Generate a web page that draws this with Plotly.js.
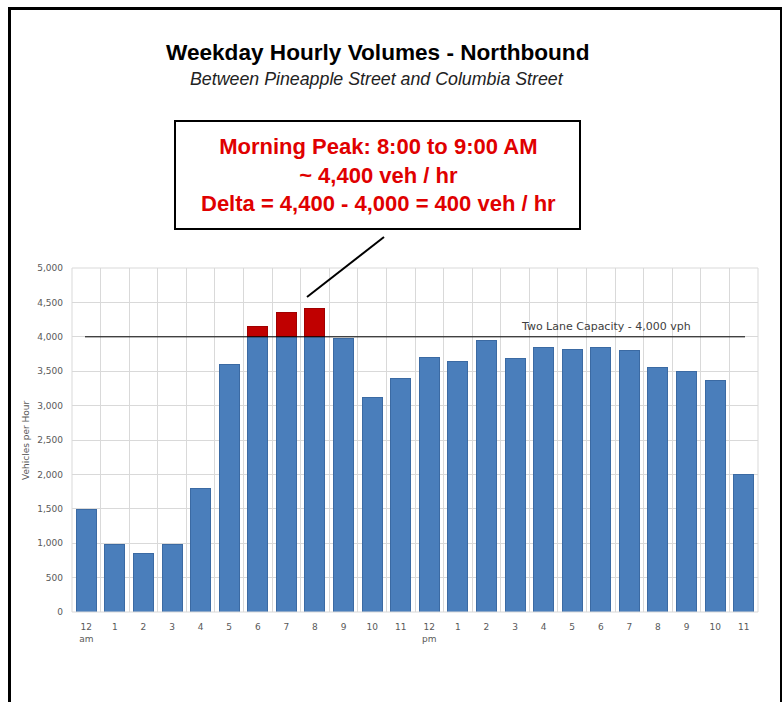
<!DOCTYPE html>
<html>
<head>
<meta charset="utf-8">
<script src="https://cdn.plot.ly/plotly-3.0.1.min.js"></script>
<style>html,body{margin:0;padding:0;background:#fff;}#chart{width:783px;height:702px;}</style>
</head>
<body>
<div id="chart"></div>
<script>
// ---- data ----
var hours = ["12am","1am","2am","3am","4am","5am","6am","7am","8am","9am","10am","11am",
             "12pm","1pm","2pm","3pm","4pm","5pm","6pm","7pm","8pm","9pm","10pm","11pm"];
var hourLabels = ["12<br>am","1","2","3","4","5","6","7","8","9","10","11",
                  "12<br>pm","1","2","3","4","5","6","7","8","9","10","11"];
var volumes = [1490, 975, 850, 975, 1790, 3600, 4155, 4355, 4415, 3970, 3120, 3390,
               3705, 3635, 3940, 3690, 3845, 3820, 3845, 3800, 3555, 3500, 3370, 1995];
var capacity = 4000;
var yTicks = [0,500,1000,1500,2000,2500,3000,3500,4000,4500,5000];
var yTickText = ["0","500","1,000","1,500","2,000","2,500","3,000","3,500","4,000","4,500","5,000"];

var withinCap = volumes.map(function(v){ return Math.min(v, capacity); });
var overCap = volumes.map(function(v){ return v > capacity ? v - capacity : null; });

// pixel helpers for paper coords (plot area: x 72..758, y 268..612)
var L = 72, R = 25, T = 268, B = 90, W = 783, H = 702;
var pw = W - L - R, ph = H - T - B;
function px(x){ return (x - L) / pw; }
function py(y){ return (H - B - y) / ph; }

var tickFont = {family: "DejaVu Sans, sans-serif", size: 9, color: "#595959"};

var traces = [
  {type: "bar", x: hours, y: withinCap, marker: {color: "#4a7ebb", line: {color: "#3b6aa3", width: 1}}, hoverinfo: "x+y", showlegend: false},
  {type: "bar", x: hours, y: overCap, marker: {color: "#c00000", line: {color: "#a00000", width: 1}}, hoverinfo: "x+y", showlegend: false}
];

var layout = {
  width: W, height: H,
  margin: {l: L, r: R, t: T, b: B, pad: 0},
  paper_bgcolor: "#ffffff", plot_bgcolor: "#ffffff",
  barmode: "stack", bargap: 0.3,
  showlegend: false,
  xaxis: {
    type: "category", tickvals: hours, ticktext: hourLabels,
    tickson: "boundaries", ticks: "", showgrid: true, gridcolor: "#d9d9d9", gridwidth: 1,
    showline: false, zeroline: false, tickfont: tickFont, ticklabelstandoff: 8, fixedrange: true
  },
  yaxis: {
    range: [0, 5000], tickvals: yTicks, ticktext: yTickText,
    showgrid: true, gridcolor: "#d9d9d9", gridwidth: 1, zeroline: false,
    showline: false, ticks: "", tickfont: tickFont, ticklabelstandoff: 8, fixedrange: true
  },
  shapes: [
    // outer frame
    {type: "line", xref: "paper", yref: "paper", x0: px(9.5), x1: px(9.5), y0: py(7), y1: py(720), line: {color: "#000", width: 3}},
    {type: "line", xref: "paper", yref: "paper", x0: px(8), x1: px(782), y0: py(8.5), y1: py(8.5), line: {color: "#000", width: 3}},
    {type: "line", xref: "paper", yref: "paper", x0: px(781), x1: px(781), y0: py(7), y1: py(720), line: {color: "#000", width: 2}},
    // plot area border
    {type: "rect", xref: "paper", yref: "paper", x0: 0, x1: 1, y0: 0, y1: 1, line: {color: "#d9d9d9", width: 1}},
    // capacity line
    {type: "line", xref: "paper", yref: "y", x0: px(85), x1: px(745), y0: capacity, y1: capacity, line: {color: "#000", width: 1}},
    // callout box
    {type: "rect", xref: "paper", yref: "paper", x0: px(175), x1: px(580), y0: py(229), y1: py(121), line: {color: "#000", width: 2}, fillcolor: "#ffffff"},
    // leader line
    {type: "line", xref: "paper", yref: "paper", x0: px(384), y0: py(237), x1: px(307), y1: py(297), line: {color: "#000", width: 2}}
  ],
  annotations: [
    {xref: "paper", yref: "paper", x: px(377), y: py(52), text: "<b>Weekday Hourly Volumes - Northbound</b>", showarrow: false,
     font: {family: "Liberation Sans, Arial, sans-serif", size: 22.6, color: "#000"}, xanchor: "center", yanchor: "middle"},
    {xref: "paper", yref: "paper", x: px(377), y: py(79), text: "<i>Between Pineapple Street and Columbia Street</i>", showarrow: false,
     font: {family: "Liberation Sans, Arial, sans-serif", size: 17.8, color: "#222"}, xanchor: "center", yanchor: "middle"},
    {xref: "paper", yref: "paper", x: px(378), y: py(175), showarrow: false, align: "center",
     text: "<b>Morning Peak: 8:00 to 9:00 AM<br>~ 4,400 veh / hr<br>Delta = 4,400 - 4,000 = 400 veh / hr</b>",
     font: {family: "Liberation Sans, Arial, sans-serif", size: 22, color: "#e00000"}, xanchor: "center", yanchor: "middle"},
    {xref: "paper", yref: "y", x: px(606), y: capacity, yshift: 2, showarrow: false, text: "Two Lane Capacity - 4,000 vph",
     font: {family: "DejaVu Sans, sans-serif", size: 11, color: "#404040"}, xanchor: "center", yanchor: "bottom"},
    {xref: "paper", yref: "paper", x: px(26), y: 0.5, showarrow: false, textangle: -90, text: "Vehicles per Hour",
     font: {family: "DejaVu Sans, sans-serif", size: 9, color: "#595959"}, xanchor: "center", yanchor: "middle"}
  ]
};

Plotly.newPlot("chart", traces, layout, {displayModeBar: false, staticPlot: true});
</script>
</body>
</html>
